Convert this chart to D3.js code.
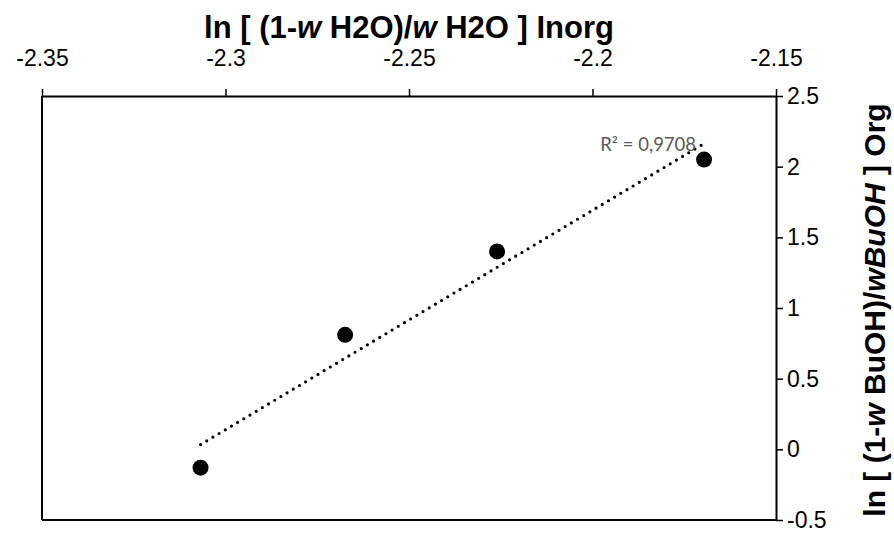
<!DOCTYPE html>
<html>
<head>
<meta charset="utf-8">
<script src="https://cdn.jsdelivr.net/npm/d3@7"></script>
<style>
  html, body { margin: 0; padding: 0; background: #fff; }
  svg { display: block; }
</style>
</head>
<body>
<svg id="chart" width="894" height="544"></svg>
<script>
// Measured pairs: ln[(1-w H2O)/w H2O] of the inorganic phase vs ln[(1-w BuOH)/w BuOH] of the organic phase
const xValues = [-2.3068, -2.2674, -2.2260, -2.1696];
const yValues = [-0.13, 0.81, 1.40, 2.05];

const xTicks = [-2.35, -2.3, -2.25, -2.2, -2.15];
const xTickLabels = ["-2.35", "-2.3", "-2.25", "-2.2", "-2.15"];
const yTicks = [-0.5, 0, 0.5, 1, 1.5, 2, 2.5];
const yTickLabels = ["-0.5", "0", "0.5", "1", "1.5", "2", "2.5"];
const rSquaredLabel = "R² = 0,9708";

const W = 894, H = 544;
const margin = { top: 96, right: 118, bottom: 24, left: 42 };

const svg = d3.select("#chart");

const x = d3.scaleLinear().domain([-2.35, -2.15]).range([margin.left, W - margin.right]);
const y = d3.scaleLinear().domain([-0.5, 2.5]).range([H - margin.bottom, margin.top]);

const font = "'Liberation Sans', Arial, sans-serif";

// plot frame (bottom and left sides)
svg.append("line")
  .attr("x1", x(-2.35)).attr("x2", x(-2.15))
  .attr("y1", y(-0.5)).attr("y2", y(-0.5))
  .attr("stroke", "#000").attr("stroke-width", 2);
svg.append("line")
  .attr("x1", x(-2.35)).attr("x2", x(-2.35))
  .attr("y1", y(-0.5)).attr("y2", y(2.5))
  .attr("stroke", "#000").attr("stroke-width", 2);

// top x axis
const xAxis = svg.append("g")
  .attr("transform", `translate(0,${y(2.5)})`)
  .call(d3.axisTop(x)
    .tickValues(xTicks)
    .tickFormat((d, i) => xTickLabels[i])
    .tickSize(7)
    .tickSizeOuter(0)
    .tickPadding(23));
xAxis.select(".domain").attr("stroke", "#000").attr("stroke-width", 2);
xAxis.selectAll(".tick line").attr("stroke", "#000").attr("stroke-width", 1.5);
xAxis.selectAll(".tick text")
  .attr("font-family", font).attr("font-size", 23).attr("fill", "#000");

// right y axis
const yAxis = svg.append("g")
  .attr("transform", `translate(${x(-2.15)},0)`)
  .call(d3.axisRight(y)
    .tickValues(yTicks)
    .tickFormat((d, i) => yTickLabels[i])
    .tickSize(7)
    .tickSizeOuter(0)
    .tickPadding(4));
yAxis.select(".domain").attr("stroke", "#000").attr("stroke-width", 2);
yAxis.selectAll(".tick line").attr("stroke", "#000").attr("stroke-width", 1.5);
yAxis.selectAll(".tick text")
  .attr("font-family", font).attr("font-size", 23).attr("fill", "#000");

// linear trendline (least squares) over the measured range
const n = xValues.length;
const mx = d3.mean(xValues), my = d3.mean(yValues);
let sxy = 0, sxx = 0;
for (let i = 0; i < n; i++) {
  sxy += (xValues[i] - mx) * (yValues[i] - my);
  sxx += (xValues[i] - mx) ** 2;
}
const slope = sxy / sxx;
const intercept = my - slope * mx;
const xMin = d3.min(xValues), xMax = d3.max(xValues);
svg.append("line")
  .attr("x1", x(xMin)).attr("y1", y(slope * xMin + intercept))
  .attr("x2", x(xMax)).attr("y2", y(slope * xMax + intercept))
  .attr("stroke", "#000")
  .attr("stroke-width", 3.2)
  .attr("stroke-linecap", "round")
  .attr("stroke-dasharray", "0 7.2");

// data points
svg.append("g").selectAll("circle")
  .data(xValues.map((v, i) => [v, yValues[i]]))
  .join("circle")
  .attr("cx", d => x(d[0]))
  .attr("cy", d => y(d[1]))
  .attr("r", 8)
  .attr("fill", "#000");

// R² annotation
svg.append("text")
  .attr("x", x(xMax) - 8)
  .attr("y", y(slope * xMax + intercept) + 7)
  .attr("text-anchor", "end")
  .attr("font-family", "Lato, 'Open Sans', sans-serif")
  .attr("font-size", 18.5)
  .attr("fill", "#595959")
  .text(rSquaredLabel);

// axis titles
const topTitle = svg.append("text")
  .attr("x", (x(-2.35) + x(-2.15)) / 2)
  .attr("y", 38)
  .attr("text-anchor", "middle")
  .attr("font-family", font)
  .attr("font-weight", "bold")
  .attr("font-size", 31)
  .attr("fill", "#000");
topTitle.append("tspan").text("ln [ (1-");
topTitle.append("tspan").attr("font-style", "italic").text("w");
topTitle.append("tspan").text(" H2O)/");
topTitle.append("tspan").attr("font-style", "italic").text("w");
topTitle.append("tspan").text(" H2O ] Inorg");

const rightTitle = svg.append("text")
  .attr("transform", `translate(885,${(y(-0.5) + y(2.5)) / 2 + 2}) rotate(-90)`)
  .attr("text-anchor", "middle")
  .attr("font-family", font)
  .attr("font-weight", "bold")
  .attr("font-size", 30)
  .attr("fill", "#000");
rightTitle.append("tspan").text("ln [ (1-");
rightTitle.append("tspan").attr("font-style", "italic").text("w");
rightTitle.append("tspan").text(" BuOH)/");
rightTitle.append("tspan").attr("font-style", "italic").text("wBuOH");
rightTitle.append("tspan").text(" ] Org");
</script>
</body>
</html>
